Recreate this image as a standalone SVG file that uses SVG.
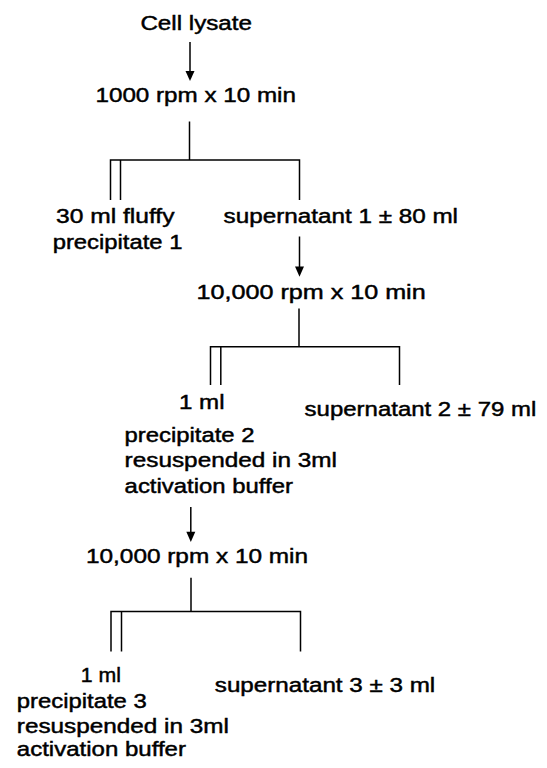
<svg xmlns="http://www.w3.org/2000/svg" width="547" height="768" viewBox="0 0 547 768">
<style>
text{font-family:"Liberation Sans",Arial,sans-serif;font-size:20px;fill:#000;stroke:#000;stroke-width:0.45}
.ln{stroke:#000;stroke-width:1.5;fill:none}
.hd{fill:#000}
</style>
<rect width="547" height="768" fill="#fff"/>
<g id="connectors">
<line class="ln" x1="190" y1="42" x2="190" y2="71"/>
<path class="hd" d="M185.5,71 L194.5,71 L190,81 Z"/>
<line class="ln" x1="189.5" y1="121.5" x2="189.5" y2="160"/>
<polyline class="ln" points="110.5,200 110.5,160 299.5,160 299.5,200"/>
<line class="ln" x1="120.5" y1="160" x2="120.5" y2="200"/>
<line class="ln" x1="299.5" y1="236.5" x2="299.5" y2="267"/>
<path class="hd" d="M295,266.5 L304,266.5 L299.5,276.7 Z"/>
<line class="ln" x1="299" y1="308.5" x2="299" y2="346.7"/>
<polyline class="ln" points="210.5,385 210.5,346.7 399.5,346.7 399.5,385"/>
<line class="ln" x1="220.8" y1="346.7" x2="220.8" y2="385"/>
<line class="ln" x1="190.8" y1="507" x2="190.8" y2="532"/>
<path class="hd" d="M186.3,531.7 L195.3,531.7 L190.8,542 Z"/>
<line class="ln" x1="191" y1="577.7" x2="191" y2="611.5"/>
<polyline class="ln" points="111,651.5 111,611.5 300.5,611.5 300.5,651.5"/>
<line class="ln" x1="121.5" y1="611.5" x2="121.5" y2="651.5"/>
</g>
<g id="cell-lysate"><text x="140.4" y="30" textLength="111.6" lengthAdjust="spacingAndGlyphs">Cell lysate</text></g>
<g id="spin1"><text x="95.5" y="101.7" textLength="200.4" lengthAdjust="spacingAndGlyphs">1000 rpm x 10 min</text></g>
<g id="precipitate1">
<text x="56.1" y="223.3" textLength="118.4" lengthAdjust="spacingAndGlyphs">30 ml fluffy</text>
<text x="52.7" y="249" textLength="129.8" lengthAdjust="spacingAndGlyphs">precipitate 1</text>
</g>
<g id="supernatant1"><text x="223.6" y="223.3" textLength="234.4" lengthAdjust="spacingAndGlyphs">supernatant 1 ± 80 ml</text></g>
<g id="spin2"><text x="196.6" y="299" textLength="229.1" lengthAdjust="spacingAndGlyphs">10,000 rpm x 10 min</text></g>
<g id="precipitate2">
<text x="179" y="409.3" textLength="45.6" lengthAdjust="spacingAndGlyphs">1 ml</text>
<text x="124.6" y="441.7" textLength="129.9" lengthAdjust="spacingAndGlyphs">precipitate 2</text>
<text x="124.6" y="467.3" textLength="212.4" lengthAdjust="spacingAndGlyphs">resuspended in 3ml</text>
<text x="124.6" y="492.7" textLength="168.4" lengthAdjust="spacingAndGlyphs">activation buffer</text>
</g>
<g id="supernatant2"><text x="304.6" y="415.7" textLength="231.7" lengthAdjust="spacingAndGlyphs">supernatant 2 ± 79 ml</text></g>
<g id="spin3"><text x="86" y="563.3" textLength="222" lengthAdjust="spacingAndGlyphs">10,000 rpm x 10 min</text></g>
<g id="precipitate3">
<text x="80.8" y="681.7" textLength="40.2" lengthAdjust="spacingAndGlyphs">1 ml</text>
<text x="16.8" y="708.3" textLength="129.9" lengthAdjust="spacingAndGlyphs">precipitate 3</text>
<text x="16.8" y="733.3" textLength="212" lengthAdjust="spacingAndGlyphs">resuspended in 3ml</text>
<text x="16.8" y="756" textLength="169.2" lengthAdjust="spacingAndGlyphs">activation buffer</text>
</g>
<g id="supernatant3"><text x="214.8" y="691.7" textLength="220.4" lengthAdjust="spacingAndGlyphs">supernatant 3 ± 3 ml</text></g>
</svg>
